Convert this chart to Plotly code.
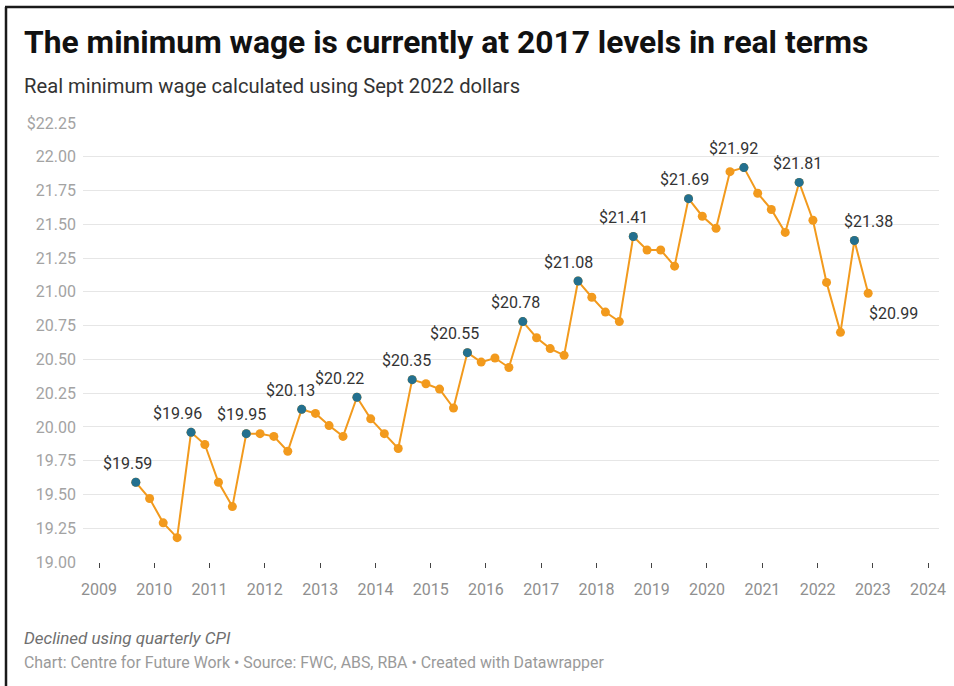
import plotly.graph_objects as go

# Quarterly real minimum wage (Sept 2022 dollars)
quarters = [
    "2009-09-01", "2009-12-01",
    "2010-03-01", "2010-06-01", "2010-09-01", "2010-12-01",
    "2011-03-01", "2011-06-01", "2011-09-01", "2011-12-01",
    "2012-03-01", "2012-06-01", "2012-09-01", "2012-12-01",
    "2013-03-01", "2013-06-01", "2013-09-01", "2013-12-01",
    "2014-03-01", "2014-06-01", "2014-09-01", "2014-12-01",
    "2015-03-01", "2015-06-01", "2015-09-01", "2015-12-01",
    "2016-03-01", "2016-06-01", "2016-09-01", "2016-12-01",
    "2017-03-01", "2017-06-01", "2017-09-01", "2017-12-01",
    "2018-03-01", "2018-06-01", "2018-09-01", "2018-12-01",
    "2019-03-01", "2019-06-01", "2019-09-01", "2019-12-01",
    "2020-03-01", "2020-06-01", "2020-09-01", "2020-12-01",
    "2021-03-01", "2021-06-01", "2021-09-01", "2021-12-01",
    "2022-03-01", "2022-06-01", "2022-09-01", "2022-12-01",
]
real_wage = [
    19.59, 19.47,
    19.29, 19.18, 19.96, 19.87,
    19.59, 19.41, 19.95, 19.95,
    19.93, 19.82, 20.13, 20.10,
    20.01, 19.93, 20.22, 20.06,
    19.95, 19.84, 20.35, 20.32,
    20.28, 20.14, 20.55, 20.48,
    20.51, 20.44, 20.78, 20.66,
    20.58, 20.53, 21.08, 20.96,
    20.85, 20.78, 21.41, 21.31,
    21.31, 21.19, 21.69, 21.56,
    21.47, 21.89, 21.92, 21.73,
    21.61, 21.44, 21.81, 21.53,
    21.07, 20.70, 21.38, 20.99,
]

# Annual wage decisions take effect in the September quarter
increase_dates = [
    "2009-09-01", "2010-09-01", "2011-09-01", "2012-09-01", "2013-09-01",
    "2014-09-01", "2015-09-01", "2016-09-01", "2017-09-01", "2018-09-01",
    "2019-09-01", "2020-09-01", "2021-09-01", "2022-09-01",
]
increase_values = [
    19.59, 19.96, 19.95, 20.13, 20.22,
    20.35, 20.55, 20.78, 21.08, 21.41,
    21.69, 21.92, 21.81, 21.38,
]

y_tick_values = [19.00, 19.25, 19.50, 19.75, 20.00, 20.25, 20.50, 20.75,
                 21.00, 21.25, 21.50, 21.75, 22.00, 22.25]
y_tick_labels = ["19.00", "19.25", "19.50", "19.75", "20.00", "20.25", "20.50",
                 "20.75", "21.00", "21.25", "21.50", "21.75", "22.00", "$22.25"]
year_ticks = [f"{y}-01-01" for y in range(2009, 2025)]
year_labels = [str(y) for y in range(2009, 2025)]

ORANGE = "#f29a1d"
BLUE = "#23708f"
FONT = "Roboto"

W, H = 954, 686
ML, MR, MT, MB = 83, 15, 123, 124
PW, PH = W - ML - MR, H - MT - MB


def px_x(x):
    return (x - ML) / PW


def px_y(y):
    return (H - MB - y) / PH


fig = go.Figure()

fig.add_trace(go.Scatter(
    x=quarters, y=real_wage, mode="lines+markers",
    line=dict(color=ORANGE, width=2),
    marker=dict(color=ORANGE, size=9),
    hoverinfo="x+y", showlegend=False,
))
fig.add_trace(go.Scatter(
    x=increase_dates, y=increase_values, mode="markers",
    marker=dict(color=BLUE, size=9),
    hoverinfo="x+y", showlegend=False,
))

# value labels above each September-quarter point (pixel nudges keep them clear of the line)
label_dx = [-8, -14, -5, -11, -17, -6, -13, -7, -10, -10, -4, -10, -2, 14]
for d, v, dx in zip(increase_dates, increase_values, label_dx):
    fig.add_annotation(
        x=d, y=v, text=f"${v:.2f}", showarrow=False,
        xshift=dx, yshift=19, font=dict(family=FONT, size=16, color="#333333"),
    )
fig.add_annotation(
    x=quarters[-1], y=real_wage[-1], text=f"${real_wage[-1]:.2f}", showarrow=False,
    xshift=25, yshift=-20, font=dict(family=FONT, size=16, color="#333333"),
)

# heading and notes
fig.add_annotation(
    xref="paper", yref="paper", x=px_x(22), y=px_y(42), xanchor="left", yanchor="middle",
    text="<b>The minimum wage is currently at 2017 levels in real terms</b>",
    showarrow=False, font=dict(family=FONT, size=31.8, color="#111111"),
)
fig.add_annotation(
    xref="paper", yref="paper", x=px_x(22), y=px_y(86), xanchor="left", yanchor="middle",
    text="Real minimum wage calculated using Sept 2022 dollars",
    showarrow=False, font=dict(family=FONT, size=20.2, color="#333333"),
)
fig.add_annotation(
    xref="paper", yref="paper", x=px_x(22), y=px_y(638), xanchor="left", yanchor="middle",
    text="<i>Declined using quarterly CPI</i>",
    showarrow=False, font=dict(family=FONT, size=17, color="#6f6f6f"),
)
fig.add_annotation(
    xref="paper", yref="paper", x=px_x(22), y=px_y(662), xanchor="left", yanchor="middle",
    text="Chart: Centre for Future Work \u2022 Source: FWC, ABS, RBA \u2022 Created with Datawrapper",
    showarrow=False, font=dict(family=FONT, size=15.9, color="#9a9a9a"),
)

# frame along the top and left edges
fig.add_shape(type="line", xref="paper", yref="paper",
              x0=px_x(5), x1=px_x(954), y0=px_y(7), y1=px_y(7),
              line=dict(color="#1a1a1a", width=2.5))
fig.add_shape(type="line", xref="paper", yref="paper",
              x0=px_x(6), x1=px_x(6), y0=px_y(7), y1=px_y(686),
              line=dict(color="#1a1a1a", width=2.5))

fig.update_layout(
    width=W, height=H,
    margin=dict(l=ML, r=MR, t=MT, b=MB, autoexpand=False),
    paper_bgcolor="white", plot_bgcolor="white",
    font=dict(family=FONT, color="#333333"),
    xaxis=dict(
        type="date", range=["2008-09-17", "2024-03-13"],
        tickvals=year_ticks, ticktext=year_labels,
        showgrid=False, zeroline=False, showline=False,
        ticks="outside", ticklen=5, tickwidth=1, tickcolor="#444444",
        tickfont=dict(family=FONT, size=16, color="#8f8f8f"),
        ticklabelstandoff=8,
    ),
    yaxis=dict(
        range=[19.0, 22.25],
        tickvals=y_tick_values, ticktext=y_tick_labels,
        showgrid=True, gridcolor="#e6e6e6", gridwidth=1,
        zeroline=False, showline=False, ticks="",
        tickfont=dict(family=FONT, size=16, color="#a3a3a3"),
        ticklabelstandoff=6,
    ),
)

fig.write_html("out.html")
